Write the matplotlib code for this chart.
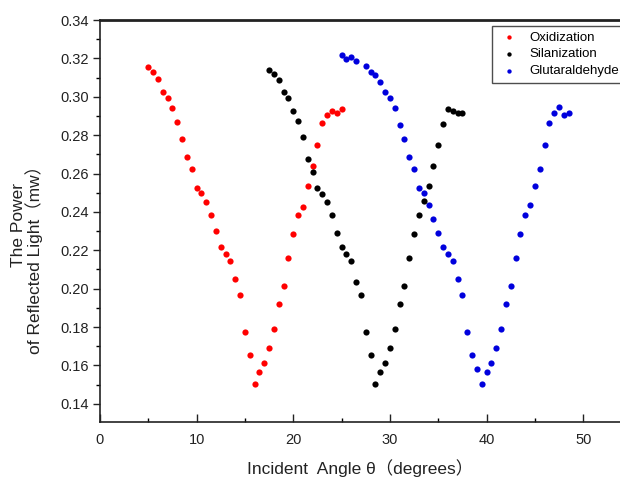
import matplotlib
matplotlib.use("Agg")
from matplotlib import pyplot as plt
from matplotlib.ticker import MultipleLocator, FormatStrFormatter

plt.rcParams["font.family"] = ["Liberation Sans", "Noto Sans CJK SC"]

# incident angle (degrees) and reflected power (mW) for each surface step
oxid_x = [5.0, 5.5, 6.0, 6.5, 7.0, 7.5, 8.0, 8.5, 9.0, 9.5, 10.0, 10.5, 11.0, 11.5,
          12.0, 12.5, 13.0, 13.5, 14.0, 14.5, 15.0, 15.5, 16.0, 16.5, 17.0, 17.5,
          18.0, 18.5, 19.0, 19.5, 20.0, 20.5, 21.0, 21.5, 22.0, 22.5, 23.0, 23.5,
          24.0, 24.5, 25.0]
oxid_y = [0.3154, 0.3128, 0.3091, 0.3023, 0.2994, 0.2943, 0.2869, 0.2779, 0.2688,
          0.2624, 0.2525, 0.2497, 0.2452, 0.2386, 0.2298, 0.2216, 0.2183, 0.2145,
          0.2051, 0.1968, 0.1775, 0.1652, 0.1503, 0.1563, 0.1610, 0.1692, 0.1789,
          0.1921, 0.2015, 0.2159, 0.2287, 0.2386, 0.2428, 0.2535, 0.2638, 0.2749,
          0.2864, 0.2905, 0.2926, 0.2914, 0.2938]

silan_x = [17.5, 18.0, 18.5, 19.0, 19.5, 20.0, 20.5, 21.0, 21.5, 22.0, 22.5, 23.0,
           23.5, 24.0, 24.5, 25.0, 25.5, 26.0, 26.5, 27.0, 27.5, 28.0, 28.5, 29.0,
           29.5, 30.0, 30.5, 31.0, 31.5, 32.0, 32.5, 33.0, 33.5, 34.0, 34.5, 35.0,
           35.5, 36.0, 36.5, 37.0, 37.5]
silan_y = [0.3138, 0.3119, 0.3089, 0.3023, 0.2994, 0.2924, 0.2876, 0.2789, 0.2678,
           0.2610, 0.2525, 0.2495, 0.2454, 0.2386, 0.2288, 0.2215, 0.2183, 0.2145,
           0.2034, 0.1966, 0.1775, 0.1652, 0.1503, 0.1563, 0.1610, 0.1692, 0.1789,
           0.1921, 0.2015, 0.2159, 0.2287, 0.2386, 0.2456, 0.2535, 0.2641, 0.2749,
           0.2858, 0.2938, 0.2926, 0.2914, 0.2916]

glut_x = [25.0, 25.5, 26.0, 26.5, 27.5, 28.0, 28.5, 29.0, 29.5, 30.0, 30.5, 31.0,
          31.5, 32.0, 32.5, 33.0, 33.5, 34.0, 34.5, 35.0, 35.5, 36.0, 36.5, 37.0,
          37.5, 38.0, 38.5, 39.0, 39.5, 40.0, 40.5, 41.0, 41.5, 42.0, 42.5, 43.0,
          43.5, 44.0, 44.5, 45.0, 45.5, 46.0, 46.5, 47.0, 47.5, 48.0, 48.5]
glut_y = [0.3216, 0.3197, 0.3207, 0.3185, 0.3162, 0.3131, 0.3115, 0.3076, 0.3025,
          0.2994, 0.2943, 0.2852, 0.2779, 0.2688, 0.2624, 0.2525, 0.2497, 0.2436,
          0.2362, 0.2292, 0.2216, 0.2183, 0.2145, 0.2051, 0.1966, 0.1775, 0.1652,
          0.1581, 0.1503, 0.1565, 0.1610, 0.1692, 0.1789, 0.1921, 0.2015, 0.2159,
          0.2287, 0.2386, 0.2436, 0.2535, 0.2624, 0.2749, 0.2864, 0.2917, 0.2948,
          0.2905, 0.2917]

fig = plt.figure(figsize=(6.2, 4.79), dpi=100)
ax = fig.add_axes([100 / 620, 1 - 422 / 479, 520 / 620, 402 / 479])

ms = 20
ax.scatter(oxid_x, oxid_y, s=ms, color="#ff0000", label="Oxidization", linewidths=0)
ax.scatter(silan_x, silan_y, s=ms, color="#000000", label="Silanization", linewidths=0)
ax.scatter(glut_x, glut_y, s=ms, color="#0000dd", label="Glutaraldehyde", linewidths=0)

ax.set_xlim(0, 53.8)
ax.set_ylim(0.1305, 0.34)
ax.xaxis.set_major_locator(MultipleLocator(10))
ax.xaxis.set_minor_locator(MultipleLocator(5))
ax.yaxis.set_minor_locator(MultipleLocator(0.01))
ax.yaxis.set_major_formatter(FormatStrFormatter("%.2f"))
ax.set_yticks([0.14, 0.16, 0.18, 0.20, 0.22, 0.24, 0.26, 0.28, 0.30, 0.32, 0.34])

ax.tick_params(axis="x", which="major", direction="in", length=6, width=1,
               labelsize=10.5, pad=8, colors="#222222")
ax.tick_params(axis="x", which="minor", direction="in", length=3, width=1)
ax.tick_params(axis="y", which="major", direction="out", length=5, width=1,
               labelsize=10.5, pad=3, colors="#222222")
ax.tick_params(axis="y", which="minor", direction="out", length=3, width=1)

ax.spines["right"].set_visible(False)
ax.spines["top"].set_linewidth(2)
ax.spines["left"].set_linewidth(1.2)
ax.spines["bottom"].set_linewidth(1.2)
for s in ax.spines.values():
    s.set_color("#222222")

ax.set_xlabel("Incident  Angle θ（degrees）", fontsize=12.5, labelpad=9, color="#222222")
fig.text(19 / 620, 1 - 225 / 479, "The Power", rotation=90, fontsize=12.5,
         ha="center", va="center", color="#222222")
fig.text(34 / 620, 1 - 255 / 479, "of Reflected Light（mw）", rotation=90, fontsize=12.5,
         ha="center", va="center", color="#222222")

leg = fig.legend(loc="upper left", bbox_to_anchor=(492 / 620, 1 - 26 / 479),
                 fontsize=9.5, frameon=True, fancybox=False, borderpad=0.4,
                 labelspacing=0.35, handletextpad=0.7, handlelength=1.77,
                 markerscale=0.7, borderaxespad=0)
leg.get_frame().set_edgecolor("#222222")
leg.get_frame().set_linewidth(1.0)

fig.savefig("out.png", dpi=100)
